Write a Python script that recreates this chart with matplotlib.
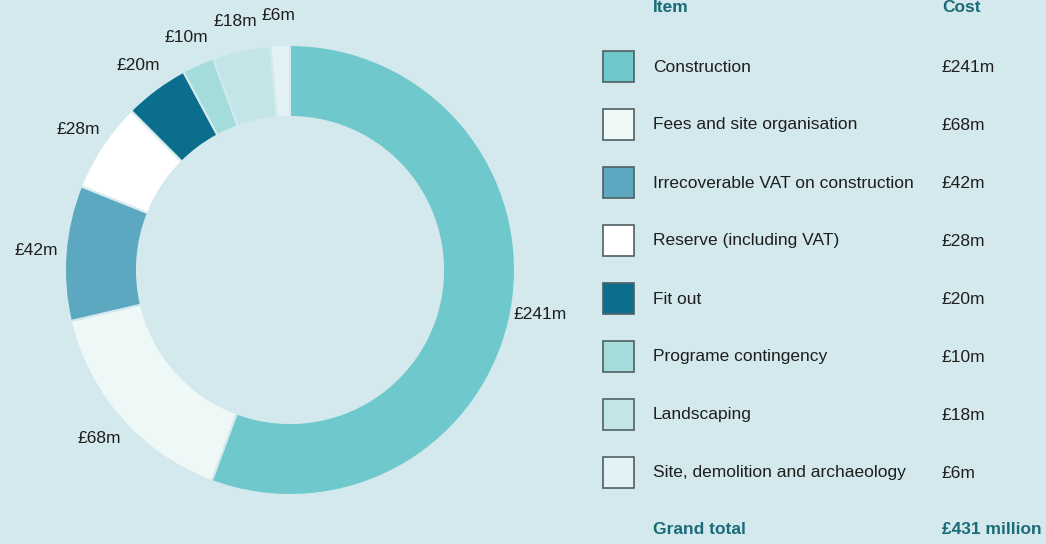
import matplotlib.pyplot as plt

# Data
items = ['Construction', 'Fees and site organisation', 'Irrecoverable VAT on construction',
         'Reserve (including VAT)', 'Fit out', 'Programe contingency', 'Landscaping',
         'Site, demolition and archaeology']
costs = [241, 68, 42, 28, 20, 10, 18, 6]
cost_labels = ['£241m', '£68m', '£42m', '£28m', '£20m', '£10m', '£18m', '£6m']
colors = ['#6fc9cc', '#eef8f7', '#5ba8c0', '#ffffff', '#0b6e8d', '#a4dcdc', '#c4e5e7', '#e3f3f5']
total_label = '£431 million'

bg = '#d3e9ed'
head_col = '#1b6a78'
txt_col = '#1e1e1e'

plt.rcParams['font.family'] = ['Liberation Sans', 'DejaVu Sans']

fig = plt.figure(figsize=(10.46, 5.44), dpi=100)
fig.patch.set_facecolor(bg)

# Donut
ax = fig.add_axes([40 / 1046, 24 / 544, 500 / 1046, 500 / 544])
ax.set_facecolor(bg)
wedges, texts = ax.pie(costs, labels=cost_labels, colors=colors, startangle=90,
                       counterclock=False, labeldistance=1.13,
                       wedgeprops=dict(width=0.32, edgecolor=bg, linewidth=1.5),
                       textprops=dict(fontsize=12.5, color=txt_col))
for t in texts:
    t.set_horizontalalignment('center')
ax.set_xlim(-1.111, 1.111)
ax.set_ylim(-1.111, 1.111)
ax.set_aspect('equal')
ax.axis('off')

# Legend table
lx = fig.add_axes([0, 0, 1, 1])
lx.set_xlim(0, 1046)
lx.set_ylim(544, 0)
lx.axis('off')

lx.text(653, 8, 'Item', fontsize=12.5, fontweight='bold', color=head_col, va='center')
lx.text(942, 8, 'Cost', fontsize=12.5, fontweight='bold', color=head_col, va='center')
for i, (name, lab, c) in enumerate(zip(items, cost_labels, colors)):
    y = 67 + i * 58
    lx.add_patch(plt.Rectangle((603, y - 16), 31, 31, facecolor=c, edgecolor='#4f5f63', linewidth=1.2))
    lx.text(653, y, name, fontsize=12.5, color=txt_col, va='center')
    lx.text(942, y, lab, fontsize=12.5, color=txt_col, va='center')
lx.text(653, 530, 'Grand total', fontsize=12.5, fontweight='bold', color=head_col, va='center')
lx.text(942, 530, total_label, fontsize=12.5, fontweight='bold', color=head_col, va='center')

plt.savefig('out.png', dpi=100, facecolor=bg)
